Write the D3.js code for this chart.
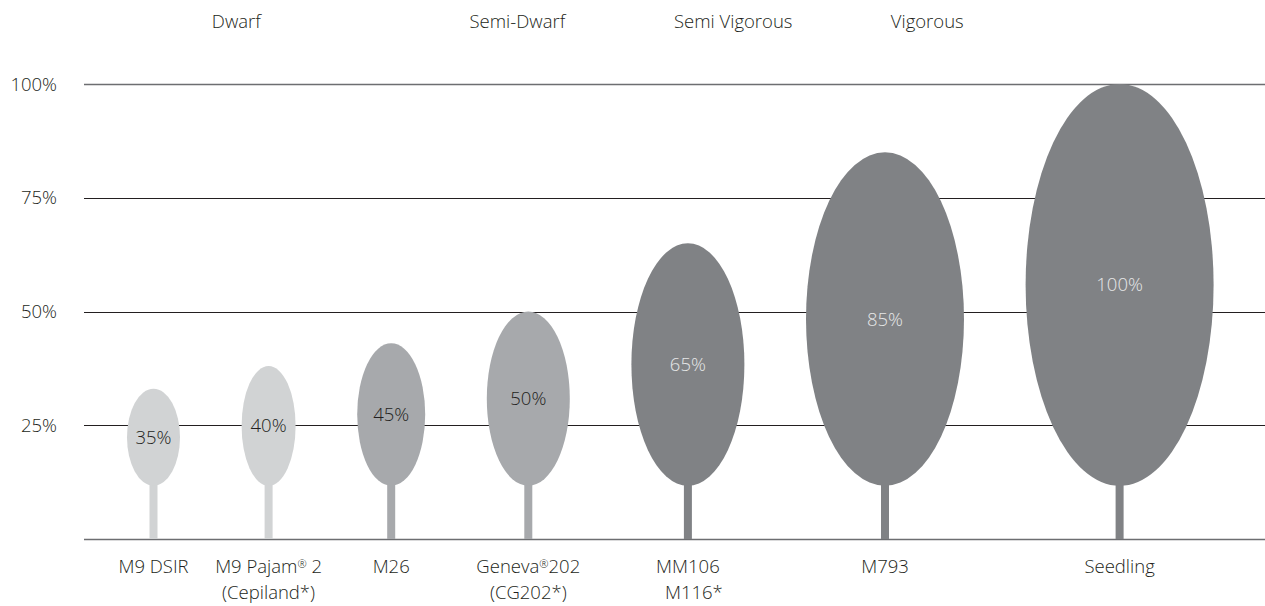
<!DOCTYPE html>
<html>
<head>
<meta charset="utf-8">
<script src="https://cdn.jsdelivr.net/npm/d3@7"></script>
<style>
  html, body { margin: 0; padding: 0; background: #fff; }
  svg { display: block; }
  text { font-family: "Open Sans", "Noto Sans", sans-serif; font-weight: 300; }
</style>
</head>
<body>
<svg id="chart" width="1265" height="606"></svg>
<script>
// ---- data ----
const rootstocks = ["M9 DSIR", "M9 Pajam\u00AE 2", "M26", "Geneva\u00AE202", "MM106", "M793", "Seedling"];
const subLabels = ["", "(Cepiland*)", "", "(CG202*)", "M116*", "", ""];
const vigourLabels = ["35%", "40%", "45%", "50%", "65%", "85%", "100%"];
const canopyTop = [33, 38, 43, 50, 65, 85, 100];     // % of full height
const canopyBase = 11.7;                              // % where canopy meets trunk
const vigourClass = ["light", "light", "medium", "medium", "dark", "dark", "dark"];
const groups = ["Dwarf", "Semi-Dwarf", "Semi Vigorous", "Vigorous"];
const yTicks = [0, 25, 50, 75, 100];
const yTickLabels = ["", "25%", "50%", "75%", "100%"];

// ---- layout ----
const canopyWidth = [53, 54, 68, 83, 113, 158, 188];
const gap = 61.6, leftStart = 127;
const groupAnchor = [0.72, 2.92, 4.23, 5.18]; // fractional category index for group headings
const fills = { light: "#d1d3d4", medium: "#a7a9ac", dark: "#808285" };
const textFills = { light: "#231f20", medium: "#231f20", dark: "#e6e7e8" };
const FS = 18.5;

const svg = d3.select("#chart");
const y = d3.scaleLinear().domain([0, 100]).range([539, 84]);

// category centres from cumulative canopy widths
let acc = leftStart;
const centers = canopyWidth.map(w => { const c = acc + w / 2; acc += w + gap; return c; });
const x = d3.scaleOrdinal().domain(rootstocks).range(centers);
const xi = d3.scaleLinear().domain(d3.range(rootstocks.length)).range(centers);

// gridlines
svg.append("g").selectAll("line").data(yTicks).join("line")
  .attr("x1", 84).attr("x2", 1265)
  .attr("y1", d => Math.round(y(d)) + 0.5).attr("y2", d => Math.round(y(d)) + 0.5)
  .attr("stroke", d => (d === 0 || d === 100) ? "#6d6e71" : "#231f20")
  .attr("stroke-width", d => (d === 0 || d === 100) ? 1.6 : 1);

// y labels
svg.append("g").selectAll("text").data(yTicks).join("text")
  .attr("x", 57).attr("y", d => y(d) + 6.5)
  .attr("text-anchor", "end")
  .attr("font-size", FS).attr("fill", "#231f20")
  .text((d, i) => yTickLabels[i]);

// trees
const data = rootstocks.map((name, i) => ({
  name, sub: subLabels[i], label: vigourLabels[i], top: canopyTop[i], cls: vigourClass[i], w: canopyWidth[i]
}));

const trees = svg.append("g").selectAll("g").data(data).join("g");

trees.append("rect")
  .attr("x", d => x(d.name) - 4).attr("width", 8)
  .attr("y", y(canopyBase) - 2).attr("height", d => y(0) - y(canopyBase) + 2)
  .attr("fill", d => fills[d.cls]);

trees.append("ellipse")
  .attr("cx", d => x(d.name))
  .attr("cy", d => (y(d.top) + y(canopyBase)) / 2)
  .attr("rx", d => d.w / 2)
  .attr("ry", d => (y(canopyBase) - y(d.top)) / 2)
  .attr("fill", d => fills[d.cls]);

trees.append("text")
  .attr("x", d => x(d.name))
  .attr("y", d => (y(d.top) + y(canopyBase)) / 2 + 6.5)
  .attr("text-anchor", "middle").attr("font-size", FS)
  .attr("fill", d => textFills[d.cls])
  .text(d => d.label);

// x labels, with small raised ® marks
function writeWithReg(sel, str) {
  const parts = str.split("\u00AE");
  parts.forEach((p, i) => {
    if (i > 0) sel.append("tspan").attr("font-size", FS * 0.6).attr("baseline-shift", "45%").text("\u00AE");
    if (p) sel.append("tspan").text(p);
  });
}
trees.append("text")
  .attr("x", d => x(d.name)).attr("y", 573)
  .attr("text-anchor", "middle").attr("font-size", FS).attr("fill", "#231f20")
  .each(function(d) { writeWithReg(d3.select(this), d.name); });
trees.append("text")
  .attr("x", d => x(d.name) + (d.name === "MM106" ? 6 : 0)).attr("y", 599)
  .attr("text-anchor", "middle").attr("font-size", FS).attr("fill", "#231f20")
  .text(d => d.sub);

// group headings
svg.append("g").selectAll("text").data(groups).join("text")
  .attr("x", (d, i) => xi(groupAnchor[i])).attr("y", 28)
  .attr("text-anchor", "middle").attr("font-size", FS).attr("fill", "#231f20")
  .text(d => d);
</script>
</body>
</html>
